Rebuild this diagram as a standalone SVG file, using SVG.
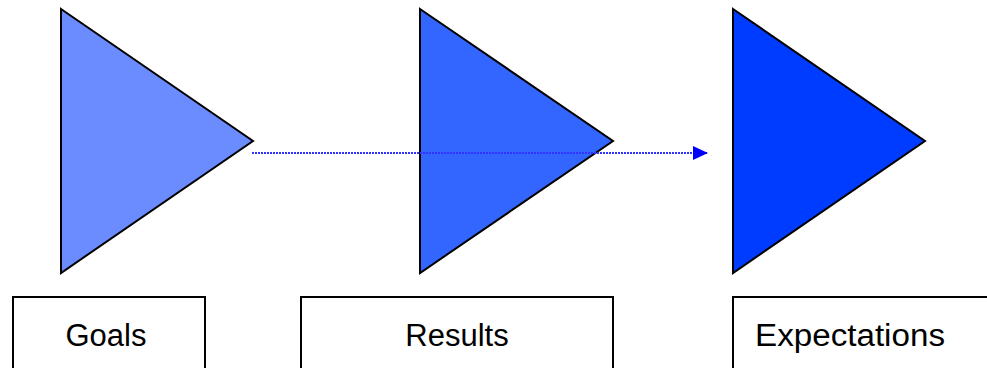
<svg xmlns="http://www.w3.org/2000/svg" width="987" height="368" viewBox="0 0 987 368">
<style>
.tri{stroke:#000;stroke-width:2;stroke-linejoin:miter}
.box{fill:#fff;stroke:#000;stroke-width:2}
.lbl{font-family:"Liberation Sans",Arial,sans-serif;font-size:31px;fill:#000;text-anchor:middle}
.conn{stroke:#3333ff;stroke-width:2;stroke-dasharray:2 1;fill:none}
</style>
<defs>
<marker id="arr" markerUnits="userSpaceOnUse" markerWidth="16" markerHeight="16" refX="15" refY="7" orient="auto">
<path d="M0,0 L15,7 L0,14 Z" fill="#0000ff"/>
</marker>
</defs>
<rect width="987" height="368" fill="#fff"/>
<g id="node-tri1"><polygon class="tri" points="61,9 253,141 61,273" fill="#6a8cff"/></g>
<g id="node-tri2"><polygon class="tri" points="420,9 613,141 420,273" fill="#3366ff"/></g>
<g id="node-tri3"><polygon class="tri" points="733,9 925,141 733,273" fill="#003cff"/></g>
<g id="node-goals"><rect class="box" x="13" y="297" width="192" height="80"/><text class="lbl" x="106" y="346">Goals</text></g>
<g id="node-results"><rect class="box" x="301" y="297" width="312" height="80"/><text class="lbl" x="457" y="346">Results</text></g>
<g id="node-expectations"><rect class="box" x="733" y="297" width="270" height="80"/><text class="lbl" x="850" y="346" textLength="190" lengthAdjust="spacingAndGlyphs">Expectations</text></g>
<g id="connectors"><line class="conn" x1="252" y1="153" x2="708" y2="153" marker-end="url(#arr)"/></g>
</svg>
